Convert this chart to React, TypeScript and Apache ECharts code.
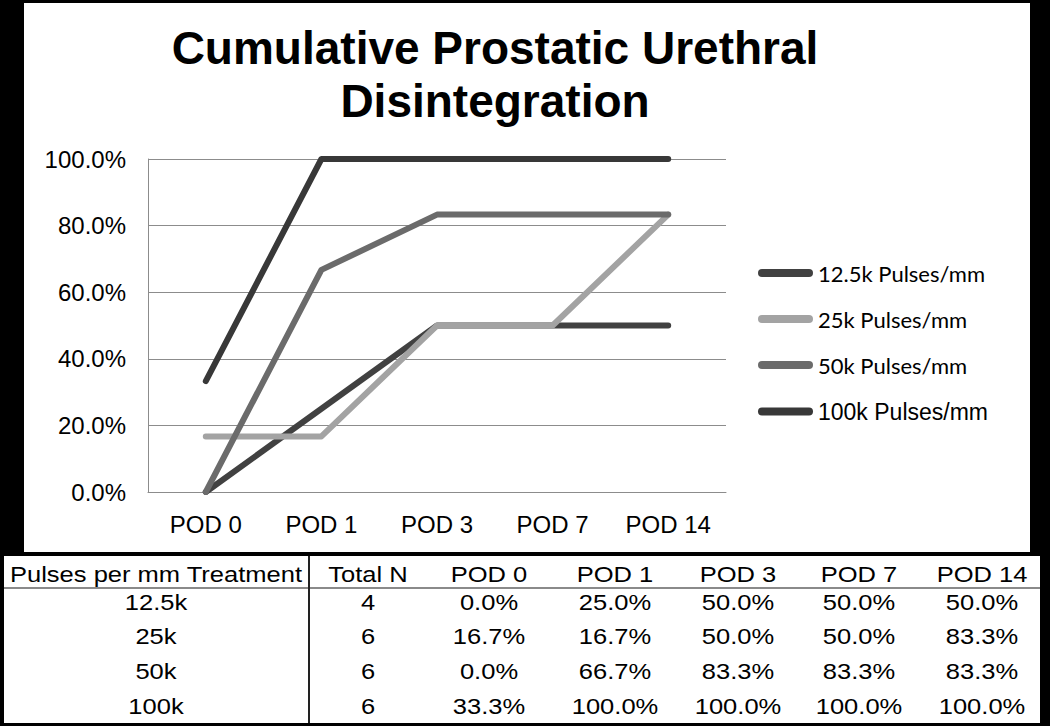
import React, { useEffect, useRef } from "react";
import * as echarts from "echarts";

// ---- Data ----
const categories = ["POD 0", "POD 1", "POD 3", "POD 7", "POD 14"];
const treatments = ["12.5k", "25k", "50k", "100k"];
const totalN = [4, 6, 6, 6];
const pulses125k = [0.0, 25.0, 50.0, 50.0, 50.0];
const pulses25k = [16.7, 16.7, 50.0, 50.0, 83.3];
const pulses50k = [0.0, 66.7, 83.3, 83.3, 83.3];
const pulses100k = [33.3, 100.0, 100.0, 100.0, 100.0];
const seriesValues = [pulses125k, pulses25k, pulses50k, pulses100k];
const yTicks = [0, 20, 40, 60, 80, 100];
const tableHeader = ["Pulses per mm Treatment", "Total N", ...categories];

// ---- Style ----
const colors = ["#414141", "#a3a3a3", "#6b6b6b", "#383838"];
const FONT = "'Liberation Sans', Arial, sans-serif";
const colCenters = [156, 368, 489, 615, 738, 859, 982];
const rowCenters = [574, 602, 636, 671, 706];

export default function App() {
  const ref = useRef<HTMLDivElement>(null);

  useEffect(() => {
    if (!ref.current) return;
    const chart = echarts.init(ref.current, undefined, { renderer: "svg" });

    const legendNames = treatments.map((t) => `${t} Pulses/mm`);
    const capsule = "path://M4,0 L51,0 A4,4 0 0 1 51,8 L4,8 A4,4 0 0 1 4,0 Z";

    const tableRows: string[][] = [tableHeader];
    treatments.forEach((t, i) => {
      tableRows.push([t, String(totalN[i]), ...seriesValues[i].map((v) => `${v.toFixed(1)}%`)]);
    });

    const tableTexts: any[] = [];
    tableRows.forEach((row, r) => {
      row.forEach((cell, c) => {
        tableTexts.push({
          type: "text",
          x: colCenters[c],
          y: rowCenters[r],
          scaleX: 1.16,
          z: 10,
          style: {
            text: cell,
            align: "center",
            verticalAlign: "middle",
            font: `22px ${FONT}`,
            fill: "#000",
          },
        });
      });
    });

    chart.setOption({
      animation: false,
      backgroundColor: "#000000",
      textStyle: { fontFamily: FONT },
      title: {
        text: "Cumulative Prostatic Urethral\nDisintegration",
        left: 490,
        top: 16,
        textAlign: "center",
        textStyle: {
          fontSize: 46,
          fontWeight: "bold",
          color: "#000",
          lineHeight: 53,
          fontFamily: FONT,
        },
      },
      grid: { left: 148, right: 324, top: 159, bottom: 234, containLabel: false },
      xAxis: {
        type: "category",
        data: categories,
        boundaryGap: true,
        axisLine: { show: true, lineStyle: { color: "#8c8c8c", width: 1 } },
        axisTick: { show: false },
        axisLabel: { color: "#000", fontSize: 24, margin: 20, fontFamily: FONT },
      },
      yAxis: {
        type: "value",
        min: yTicks[0],
        max: yTicks[yTicks.length - 1],
        interval: yTicks[1] - yTicks[0],
        axisLine: { show: true, lineStyle: { color: "#8c8c8c", width: 1 } },
        axisTick: { show: false },
        splitLine: { show: true, lineStyle: { color: "#8c8c8c", width: 1 } },
        axisLabel: {
          color: "#000",
          fontSize: 24,
          margin: 22,
          fontFamily: FONT,
          formatter: (v: number) => `${v.toFixed(1)}%`,
        },
      },
      legend: {
        orient: "vertical",
        left: 753,
        top: 257,
        itemWidth: 55,
        itemHeight: 8,
        itemGap: 24,
        selectedMode: false,
        icon: capsule,
        data: legendNames.map((n, i) => ({
          name: n,
          textStyle:
            i === 3
              ? { fontSize: 23, fontFamily: FONT, color: "#000" }
              : { fontSize: 22, fontFamily: "Lato, 'Open Sans', sans-serif", color: "#000" },
        })),
      },
      series: seriesValues.map((vals, i) => ({
        name: legendNames[i],
        type: "line",
        data: vals,
        symbol: "none",
        color: colors[i],
        lineStyle: { width: 6, color: colors[i], cap: "round", join: "round" },
        itemStyle: { color: colors[i] },
        z: 3 + i,
      })),
      graphic: [
        {
          type: "rect",
          z: -10,
          silent: true,
          shape: { x: 24, y: 3, width: 1006, height: 549 },
          style: { fill: "#ffffff" },
        },
        {
          type: "rect",
          z: -10,
          silent: true,
          shape: { x: 4, y: 556, width: 1036, height: 167 },
          style: { fill: "#ffffff" },
        },
        {
          type: "line",
          z: 5,
          silent: true,
          shape: { x1: 4, y1: 588, x2: 1040, y2: 588 },
          style: { stroke: "#8a8a8a", lineWidth: 2 },
        },
        {
          type: "line",
          z: 5,
          silent: true,
          shape: { x1: 309, y1: 556, x2: 309, y2: 723 },
          style: { stroke: "#222", lineWidth: 2 },
        },
        ...tableTexts,
      ],
    });

    return () => chart.dispose();
  }, []);

  return (
    <div
      ref={ref}
      style={{ position: "fixed", left: 0, top: 0, width: 1050, height: 726 }}
    />
  );
}
